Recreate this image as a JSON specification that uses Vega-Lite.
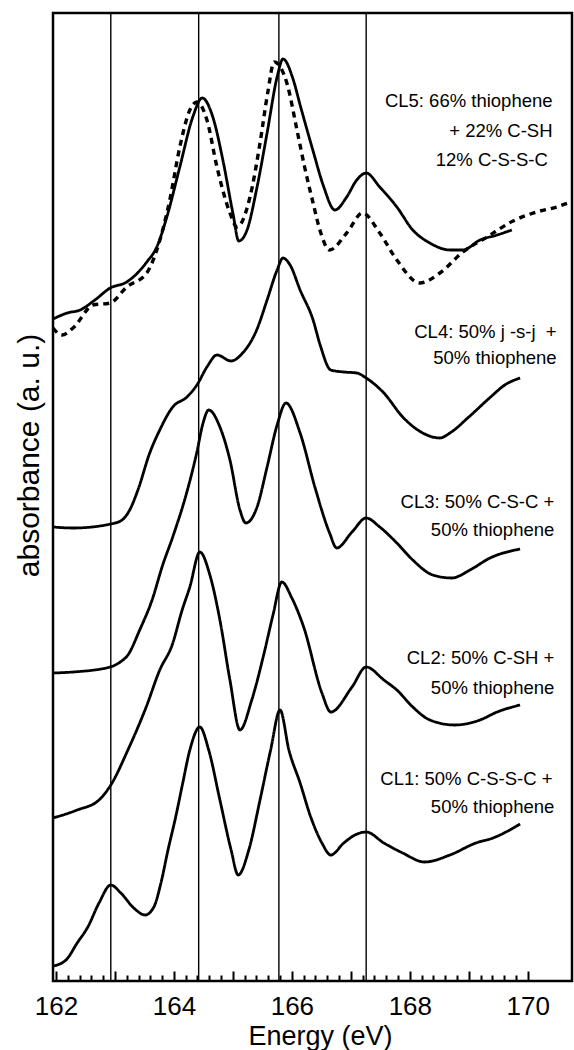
{
  "$schema": "https://vega.github.io/schema/vega-lite/v6.json",
  "width": 519,
  "height": 968,
  "autosize": "none",
  "padding": {"left": 53, "top": 13, "right": 2, "bottom": 69},
  "background": "white",
  "config": {
    "view": {"stroke": "black", "strokeWidth": 2.5},
    "axis": {"grid": false}
  },
  "datasets": {
    "curves": [
      {"series":"CL5","style":"solid","E":161.95,"a":6.62},{"series":"CL5","style":"solid","E":162.19,"a":6.68},{"series":"CL5","style":"solid","E":162.41,"a":6.71},{"series":"CL5","style":"solid","E":162.66,"a":6.81},{"series":"CL5","style":"solid","E":162.92,"a":6.93},{"series":"CL5","style":"solid","E":163.20,"a":6.99},{"series":"CL5","style":"solid","E":163.54,"a":7.19},{"series":"CL5","style":"solid","E":163.71,"a":7.34},{"series":"CL5","style":"solid","E":163.88,"a":7.64},{"series":"CL5","style":"solid","E":164.10,"a":8.14},{"series":"CL5","style":"solid","E":164.32,"a":8.64},{"series":"CL5","style":"solid","E":164.48,"a":8.83},{"series":"CL5","style":"solid","E":164.66,"a":8.64},{"series":"CL5","style":"solid","E":164.83,"a":8.21},{"series":"CL5","style":"solid","E":165.00,"a":7.68},{"series":"CL5","style":"solid","E":165.10,"a":7.40},{"series":"CL5","style":"solid","E":165.24,"a":7.51},{"series":"CL5","style":"solid","E":165.41,"a":7.94},{"series":"CL5","style":"solid","E":165.58,"a":8.48},{"series":"CL5","style":"solid","E":165.75,"a":9.04},{"series":"CL5","style":"solid","E":165.85,"a":9.22},{"series":"CL5","style":"solid","E":166.02,"a":9.02},{"series":"CL5","style":"solid","E":166.14,"a":8.76},{"series":"CL5","style":"solid","E":166.36,"a":8.30},{"series":"CL5","style":"solid","E":166.53,"a":7.96},{"series":"CL5","style":"solid","E":166.73,"a":7.71},{"series":"CL5","style":"solid","E":166.93,"a":7.84},{"series":"CL5","style":"solid","E":167.10,"a":8.01},{"series":"CL5","style":"solid","E":167.26,"a":8.08},{"series":"CL5","style":"solid","E":167.49,"a":7.94},{"series":"CL5","style":"solid","E":167.78,"a":7.74},{"series":"CL5","style":"solid","E":168.05,"a":7.51},{"series":"CL5","style":"solid","E":168.34,"a":7.38},{"series":"CL5","style":"solid","E":168.68,"a":7.31},{"series":"CL5","style":"solid","E":168.90,"a":7.31},{"series":"CL5","style":"solid","E":169.19,"a":7.41},{"series":"CL5","style":"solid","E":169.48,"a":7.46},{"series":"CL5","style":"solid","E":169.73,"a":7.51},
      {"series":"CL5 fit","style":"dashed","E":161.95,"a":6.53},{"series":"CL5 fit","style":"dashed","E":162.10,"a":6.46},{"series":"CL5 fit","style":"dashed","E":162.29,"a":6.53},{"series":"CL5 fit","style":"dashed","E":162.63,"a":6.76},{"series":"CL5 fit","style":"dashed","E":162.92,"a":6.78},{"series":"CL5 fit","style":"dashed","E":163.20,"a":6.94},{"series":"CL5 fit","style":"dashed","E":163.54,"a":7.08},{"series":"CL5 fit","style":"dashed","E":163.71,"a":7.31},{"series":"CL5 fit","style":"dashed","E":163.93,"a":7.81},{"series":"CL5 fit","style":"dashed","E":164.10,"a":8.34},{"series":"CL5 fit","style":"dashed","E":164.27,"a":8.71},{"series":"CL5 fit","style":"dashed","E":164.39,"a":8.79},{"series":"CL5 fit","style":"dashed","E":164.56,"a":8.61},{"series":"CL5 fit","style":"dashed","E":164.73,"a":8.14},{"series":"CL5 fit","style":"dashed","E":164.95,"a":7.68},{"series":"CL5 fit","style":"dashed","E":165.07,"a":7.54},{"series":"CL5 fit","style":"dashed","E":165.29,"a":7.84},{"series":"CL5 fit","style":"dashed","E":165.46,"a":8.38},{"series":"CL5 fit","style":"dashed","E":165.59,"a":8.88},{"series":"CL5 fit","style":"dashed","E":165.70,"a":9.19},{"series":"CL5 fit","style":"dashed","E":165.92,"a":8.97},{"series":"CL5 fit","style":"dashed","E":166.09,"a":8.50},{"series":"CL5 fit","style":"dashed","E":166.22,"a":8.13},{"series":"CL5 fit","style":"dashed","E":166.36,"a":7.78},{"series":"CL5 fit","style":"dashed","E":166.48,"a":7.50},{"series":"CL5 fit","style":"dashed","E":166.64,"a":7.31},{"series":"CL5 fit","style":"dashed","E":166.93,"a":7.48},{"series":"CL5 fit","style":"dashed","E":167.20,"a":7.68},{"series":"CL5 fit","style":"dashed","E":167.49,"a":7.48},{"series":"CL5 fit","style":"dashed","E":167.78,"a":7.21},{"series":"CL5 fit","style":"dashed","E":168.17,"a":6.98},{"series":"CL5 fit","style":"dashed","E":168.51,"a":7.08},{"series":"CL5 fit","style":"dashed","E":168.90,"a":7.29},{"series":"CL5 fit","style":"dashed","E":169.31,"a":7.44},{"series":"CL5 fit","style":"dashed","E":169.75,"a":7.60},{"series":"CL5 fit","style":"dashed","E":170.15,"a":7.69},{"series":"CL5 fit","style":"dashed","E":170.49,"a":7.74},{"series":"CL5 fit","style":"dashed","E":170.73,"a":7.79},
      {"series":"CL4","style":"solid","E":161.95,"a":4.54},{"series":"CL4","style":"solid","E":162.29,"a":4.53},{"series":"CL4","style":"solid","E":162.93,"a":4.57},{"series":"CL4","style":"solid","E":163.12,"a":4.61},{"series":"CL4","style":"solid","E":163.25,"a":4.71},{"series":"CL4","style":"solid","E":163.39,"a":4.91},{"series":"CL4","style":"solid","E":163.59,"a":5.28},{"series":"CL4","style":"solid","E":163.76,"a":5.51},{"series":"CL4","style":"solid","E":163.98,"a":5.74},{"series":"CL4","style":"solid","E":164.22,"a":5.84},{"series":"CL4","style":"solid","E":164.39,"a":5.96},{"series":"CL4","style":"solid","E":164.56,"a":6.14},{"series":"CL4","style":"solid","E":164.73,"a":6.26},{"series":"CL4","style":"solid","E":164.97,"a":6.20},{"series":"CL4","style":"solid","E":165.15,"a":6.27},{"series":"CL4","style":"solid","E":165.41,"a":6.52},{"series":"CL4","style":"solid","E":165.58,"a":6.81},{"series":"CL4","style":"solid","E":165.75,"a":7.11},{"series":"CL4","style":"solid","E":165.85,"a":7.23},{"series":"CL4","style":"solid","E":165.97,"a":7.16},{"series":"CL4","style":"solid","E":166.14,"a":6.91},{"series":"CL4","style":"solid","E":166.36,"a":6.61},{"series":"CL4","style":"solid","E":166.48,"a":6.36},{"series":"CL4","style":"solid","E":166.66,"a":6.11},{"series":"CL4","style":"solid","E":166.88,"a":6.09},{"series":"CL4","style":"solid","E":167.10,"a":6.08},{"series":"CL4","style":"solid","E":167.26,"a":6.03},{"series":"CL4","style":"solid","E":167.56,"a":5.88},{"series":"CL4","style":"solid","E":167.88,"a":5.64},{"series":"CL4","style":"solid","E":168.19,"a":5.49},{"series":"CL4","style":"solid","E":168.51,"a":5.43},{"series":"CL4","style":"solid","E":168.68,"a":5.48},{"series":"CL4","style":"solid","E":169.00,"a":5.64},{"series":"CL4","style":"solid","E":169.37,"a":5.84},{"series":"CL4","style":"solid","E":169.61,"a":5.96},{"series":"CL4","style":"solid","E":169.87,"a":6.03},
      {"series":"CL3","style":"solid","E":161.95,"a":3.08},{"series":"CL3","style":"solid","E":162.29,"a":3.09},{"series":"CL3","style":"solid","E":162.92,"a":3.14},{"series":"CL3","style":"solid","E":163.09,"a":3.19},{"series":"CL3","style":"solid","E":163.22,"a":3.26},{"series":"CL3","style":"solid","E":163.42,"a":3.51},{"series":"CL3","style":"solid","E":163.63,"a":3.81},{"series":"CL3","style":"solid","E":163.81,"a":4.16},{"series":"CL3","style":"solid","E":163.98,"a":4.44},{"series":"CL3","style":"solid","E":164.22,"a":4.89},{"series":"CL3","style":"solid","E":164.39,"a":5.29},{"series":"CL3","style":"solid","E":164.49,"a":5.57},{"series":"CL3","style":"solid","E":164.59,"a":5.71},{"series":"CL3","style":"solid","E":164.78,"a":5.54},{"series":"CL3","style":"solid","E":164.95,"a":5.21},{"series":"CL3","style":"solid","E":165.12,"a":4.71},{"series":"CL3","style":"solid","E":165.22,"a":4.58},{"series":"CL3","style":"solid","E":165.41,"a":4.74},{"series":"CL3","style":"solid","E":165.58,"a":5.14},{"series":"CL3","style":"solid","E":165.75,"a":5.56},{"series":"CL3","style":"solid","E":165.90,"a":5.78},{"series":"CL3","style":"solid","E":166.14,"a":5.48},{"series":"CL3","style":"solid","E":166.39,"a":4.94},{"series":"CL3","style":"solid","E":166.64,"a":4.48},{"series":"CL3","style":"solid","E":166.76,"a":4.33},{"series":"CL3","style":"solid","E":167.02,"a":4.49},{"series":"CL3","style":"solid","E":167.26,"a":4.63},{"series":"CL3","style":"solid","E":167.49,"a":4.54},{"series":"CL3","style":"solid","E":167.78,"a":4.38},{"series":"CL3","style":"solid","E":168.05,"a":4.21},{"series":"CL3","style":"solid","E":168.39,"a":4.06},{"series":"CL3","style":"solid","E":168.71,"a":4.03},{"series":"CL3","style":"solid","E":169.02,"a":4.11},{"series":"CL3","style":"solid","E":169.36,"a":4.23},{"series":"CL3","style":"solid","E":169.87,"a":4.32},
      {"series":"CL2","style":"solid","E":161.95,"a":1.63},{"series":"CL2","style":"solid","E":162.36,"a":1.71},{"series":"CL2","style":"solid","E":162.73,"a":1.81},{"series":"CL2","style":"solid","E":162.93,"a":1.96},{"series":"CL2","style":"solid","E":163.22,"a":2.31},{"series":"CL2","style":"solid","E":163.53,"a":2.74},{"series":"CL2","style":"solid","E":163.76,"a":3.11},{"series":"CL2","style":"solid","E":163.97,"a":3.36},{"series":"CL2","style":"solid","E":164.14,"a":3.71},{"series":"CL2","style":"solid","E":164.27,"a":3.94},{"series":"CL2","style":"solid","E":164.44,"a":4.29},{"series":"CL2","style":"solid","E":164.61,"a":4.06},{"series":"CL2","style":"solid","E":164.78,"a":3.61},{"series":"CL2","style":"solid","E":164.95,"a":3.01},{"series":"CL2","style":"solid","E":165.12,"a":2.51},{"series":"CL2","style":"solid","E":165.32,"a":2.81},{"series":"CL2","style":"solid","E":165.53,"a":3.28},{"series":"CL2","style":"solid","E":165.68,"a":3.66},{"series":"CL2","style":"solid","E":165.83,"a":3.99},{"series":"CL2","style":"solid","E":166.00,"a":3.83},{"series":"CL2","style":"solid","E":166.20,"a":3.54},{"series":"CL2","style":"solid","E":166.51,"a":2.88},{"series":"CL2","style":"solid","E":166.66,"a":2.69},{"series":"CL2","style":"solid","E":167.02,"a":2.94},{"series":"CL2","style":"solid","E":167.26,"a":3.14},{"series":"CL2","style":"solid","E":167.56,"a":3.01},{"series":"CL2","style":"solid","E":167.78,"a":2.91},{"series":"CL2","style":"solid","E":168.05,"a":2.74},{"series":"CL2","style":"solid","E":168.34,"a":2.61},{"series":"CL2","style":"solid","E":168.76,"a":2.56},{"series":"CL2","style":"solid","E":169.19,"a":2.61},{"series":"CL2","style":"solid","E":169.48,"a":2.69},{"series":"CL2","style":"solid","E":169.87,"a":2.76},
      {"series":"CL1","style":"solid","E":161.95,"a":0.15},{"series":"CL1","style":"solid","E":162.17,"a":0.21},{"series":"CL1","style":"solid","E":162.36,"a":0.38},{"series":"CL1","style":"solid","E":162.54,"a":0.54},{"series":"CL1","style":"solid","E":162.73,"a":0.78},{"series":"CL1","style":"solid","E":162.93,"a":0.96},{"series":"CL1","style":"solid","E":163.10,"a":0.88},{"series":"CL1","style":"solid","E":163.32,"a":0.73},{"series":"CL1","style":"solid","E":163.51,"a":0.66},{"series":"CL1","style":"solid","E":163.66,"a":0.74},{"series":"CL1","style":"solid","E":163.78,"a":0.98},{"series":"CL1","style":"solid","E":163.90,"a":1.31},{"series":"CL1","style":"solid","E":164.03,"a":1.64},{"series":"CL1","style":"solid","E":164.15,"a":1.98},{"series":"CL1","style":"solid","E":164.27,"a":2.31},{"series":"CL1","style":"solid","E":164.44,"a":2.54},{"series":"CL1","style":"solid","E":164.59,"a":2.31},{"series":"CL1","style":"solid","E":164.78,"a":1.81},{"series":"CL1","style":"solid","E":164.97,"a":1.31},{"series":"CL1","style":"solid","E":165.09,"a":1.06},{"series":"CL1","style":"solid","E":165.27,"a":1.31},{"series":"CL1","style":"solid","E":165.46,"a":1.81},{"series":"CL1","style":"solid","E":165.64,"a":2.31},{"series":"CL1","style":"solid","E":165.80,"a":2.71},{"series":"CL1","style":"solid","E":165.95,"a":2.31},{"series":"CL1","style":"solid","E":166.14,"a":1.98},{"series":"CL1","style":"solid","E":166.32,"a":1.64},{"series":"CL1","style":"solid","E":166.51,"a":1.38},{"series":"CL1","style":"solid","E":166.66,"a":1.26},{"series":"CL1","style":"solid","E":166.88,"a":1.38},{"series":"CL1","style":"solid","E":167.07,"a":1.46},{"series":"CL1","style":"solid","E":167.26,"a":1.49},{"series":"CL1","style":"solid","E":167.56,"a":1.38},{"series":"CL1","style":"solid","E":167.88,"a":1.28},{"series":"CL1","style":"solid","E":168.25,"a":1.19},{"series":"CL1","style":"solid","E":168.68,"a":1.26},{"series":"CL1","style":"solid","E":169.12,"a":1.38},{"series":"CL1","style":"solid","E":169.41,"a":1.43},{"series":"CL1","style":"solid","E":169.87,"a":1.57}
    ],
    "vlines": [{"E":162.93},{"E":164.42},{"E":165.78},{"E":167.26}],
    "labels": [
      {"text":"CL5: 66% thiophene","E":170.42,"a":8.80},
      {"text":"+ 22% C-SH","E":170.42,"a":8.50},
      {"text":"12% C-S-S-C","E":170.34,"a":8.21},
      {"text":"CL4: 50% j -s-j\u00a0 +","E":170.49,"a":6.49},
      {"text":"50% thiophene","E":170.49,"a":6.23},
      {"text":"CL3: 50% C-S-C +","E":170.45,"a":4.79},
      {"text":"50% thiophene","E":170.45,"a":4.51},
      {"text":"CL2: 50% C-SH +","E":170.45,"a":3.23},
      {"text":"50% thiophene","E":170.45,"a":2.93},
      {"text":"CL1: 50% C-S-S-C +","E":170.42,"a":2.02},
      {"text":"50% thiophene","E":170.45,"a":1.74}
    ]
  },
  "resolve": {"axis": {"x": "independent"}},
  "layer": [
    {
      "data": {"name": "vlines"},
      "mark": {"type": "rule", "color": "black", "strokeWidth": 1.4},
      "encoding": {
        "x": {
          "field": "E", "type": "quantitative",
          "scale": {"domain": [161.95, 170.75], "nice": false, "zero": false},
          "axis": {
            "orient": "bottom",
            "title": "Energy (eV)",
            "values": [162,163,164,165,166,167,168,169,170],
            "labelExpr": "datum.value % 2 === 0 ? format(datum.value, 'd') : ''",
            "labelOverlap": false,
            "labelFlush": false,
            "domain": false,
            "tickColor": "black",
            "tickWidth": 2,
            "tickSize": -10,
            "labelFont": "Liberation Sans",
            "labelFontSize": 26,
            "labelColor": "black",
            "labelBaseline": "alphabetic",
            "labelPadding": 43,
            "titleFont": "Liberation Sans",
            "titleFontSize": 27,
            "titleFontWeight": "normal",
            "titleColor": "black",
            "titleX": 267,
            "titleY": 63,
            "titleBaseline": "alphabetic",
            "titleAlign": "center"
          }
        },
        "y": {"datum": 0, "type": "quantitative", "scale": {"domain": [0, 9.68], "nice": false, "zero": false},
          "axis": {
            "title": "absorbance (a. u.)",
            "ticks": false, "labels": false, "domain": false,
            "titleFont": "Liberation Sans",
            "titleFontSize": 30,
            "titleFontWeight": "normal",
            "titleColor": "black",
            "titleX": -24,
            "titleY": 442,
            "titleAngle": -90,
            "titleAlign": "center",
            "titleBaseline": "middle"
          }
        },
        "y2": {"datum": 9.68}
      }
    },
    {
      "data": {"name": "curves"},
      "mark": {"type": "line", "color": "black", "interpolate": "monotone", "strokeJoin": "round", "strokeCap": "butt"},
      "encoding": {
        "x": {"field": "E", "type": "quantitative",
          "axis": {
            "orient": "bottom",
            "title": null,
            "values": [162.2,162.4,162.6,162.8,163.2,163.4,163.6,163.8,164.2,164.4,164.6,164.8,165.2,165.4,165.6,165.8,166.2,166.4,166.6,166.8,167.2,167.4,167.6,167.8,168.2,168.4,168.6,168.8,169.2,169.4,169.6,169.8],
            "labels": false,
            "domain": false,
            "tickColor": "black",
            "tickWidth": 2,
            "tickSize": -6
          }
        },
        "y": {"field": "a", "type": "quantitative"},
        "detail": {"field": "series", "type": "nominal"},
        "strokeDash": {"field": "style", "type": "nominal", "scale": {"domain": ["solid", "dashed"], "range": [[1, 0], [6, 5]]}, "legend": null},
        "strokeWidth": {"field": "style", "type": "nominal", "scale": {"domain": ["solid", "dashed"], "range": [2.8, 3.4]}, "legend": null}
      }
    },
    {
      "data": {"name": "labels"},
      "mark": {"type": "text", "align": "right", "baseline": "middle", "font": "Liberation Sans", "fontSize": 18.5, "color": "black"},
      "encoding": {
        "x": {"field": "E", "type": "quantitative", "axis": null},
        "y": {"field": "a", "type": "quantitative"},
        "text": {"field": "text"}
      }
    }
  ]
}
